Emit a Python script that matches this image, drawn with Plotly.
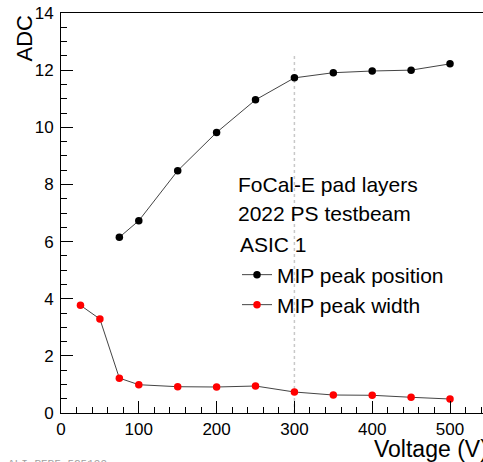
import plotly.graph_objects as go

# Data
voltage_pos = [75, 100, 150, 200, 250, 300, 350, 400, 450, 500]
mip_position = [6.15, 6.73, 8.48, 9.82, 10.96, 11.73, 11.91, 11.97, 12.00, 12.22]

voltage_width = [25, 50, 75, 100, 150, 200, 250, 300, 350, 400, 450, 500]
mip_width = [3.77, 3.29, 1.22, 0.99, 0.92, 0.91, 0.945, 0.735, 0.63, 0.62, 0.55, 0.49]

header_lines = ["FoCal-E pad layers", "2022 PS testbeam", "ASIC 1"]
series_names = ["MIP peak position", "MIP peak width"]
x_title = "Voltage (V)"
y_title = "ADC"
watermark = "ALI-PERF-525199"
ref_voltage = 300
ref_top = 12.5

W, H = 483, 462
L, T, B = 61, 13, 49
PW = W - L
PH = H - T - B

def px(x):
    return (x - L) / PW

def py(y):
    return (H - B - y) / PH

FONT = "Liberation Sans, Arial, Helvetica, sans-serif"

fig = go.Figure()
fig.add_trace(go.Scatter(
    x=voltage_pos, y=mip_position, mode="lines+markers", name=series_names[0],
    line=dict(color="#444444", width=1),
    marker=dict(color="black", size=7.5),
    legend="legend",
))
fig.add_trace(go.Scatter(
    x=voltage_width, y=mip_width, mode="lines+markers", name=series_names[1],
    line=dict(color="#444444", width=1),
    marker=dict(color="#ff0000", size=7.5),
    legend="legend2",
))

fig.add_shape(type="line", x0=ref_voltage, x1=ref_voltage, y0=0, y1=ref_top,
              xref="x", yref="y", line=dict(color="#c8c8c8", width=1.5, dash="dot"),
              layer="below")

annotations = []
header_y = [184.5, 213, 244]
header_x = [236, 235.5, 237.5]
for txt, yy, xx in zip(header_lines, header_y, header_x):
    annotations.append(dict(text=txt, x=px(xx), y=py(yy), xref="paper", yref="paper",
                            xanchor="left", yanchor="middle", showarrow=False,
                            font=dict(family=FONT, size=21, color="black")))
annotations.append(dict(text=x_title, x=px(490), y=py(449), xref="paper", yref="paper",
                        xanchor="right", yanchor="middle", showarrow=False,
                        font=dict(family=FONT, size=23, color="black")))
annotations.append(dict(text=y_title, x=px(24), y=1.0, xref="paper", yref="paper",
                        xanchor="center", yanchor="top", showarrow=False, textangle=-90,
                        font=dict(family=FONT, size=22, color="black")))
annotations.append(dict(text=watermark, x=px(6), y=py(456), xref="paper", yref="paper",
                        xanchor="left", yanchor="top", showarrow=False,
                        font=dict(family="Liberation Mono, Courier New, monospace", size=11, color="#a0a0a0")))

legend_common = dict(bgcolor="rgba(0,0,0,0)", borderwidth=0,
                     font=dict(family=FONT, size=21, color="black"),
                     xref="paper", yref="paper", xanchor="left", yanchor="middle",
                     itemsizing="trace")

fig.update_layout(
    width=W, height=H,
    margin=dict(l=L, r=0, t=T, b=B, pad=0),
    paper_bgcolor="white", plot_bgcolor="white",
    showlegend=True,
    legend=dict(x=px(237), y=py(275), **legend_common),
    legend2=dict(x=px(237), y=py(305), **legend_common),
    annotations=annotations,
    font=dict(family=FONT, size=17, color="black"),
    xaxis=dict(
        range=[0, 542.4], showgrid=False, zeroline=False,
        showline=True, linecolor="black", linewidth=1, mirror=True,
        ticks="inside", ticklen=12, tickwidth=1, tickcolor="black",
        tick0=0, dtick=100,
        minor=dict(ticks="inside", ticklen=6, dtick=20, tickcolor="black", tickwidth=1),
        tickfont=dict(family=FONT, size=17, color="black"),
        ticklabelstandoff=1,
    ),
    yaxis=dict(
        range=[0, 14], showgrid=False, zeroline=False,
        showline=True, linecolor="black", linewidth=1, mirror=False,
        ticks="inside", ticklen=12, tickwidth=1, tickcolor="black",
        tick0=0, dtick=2,
        minor=dict(ticks="inside", ticklen=6, dtick=0.5, tickcolor="black", tickwidth=1),
        tickfont=dict(family=FONT, size=17, color="black"),
        ticklabelstandoff=3,
    ),
)

fig.write_html(
    "out.html",
    config={"displayModeBar": False},
    post_script="document.body.style.margin='0';document.body.style.overflow='hidden';",
)
